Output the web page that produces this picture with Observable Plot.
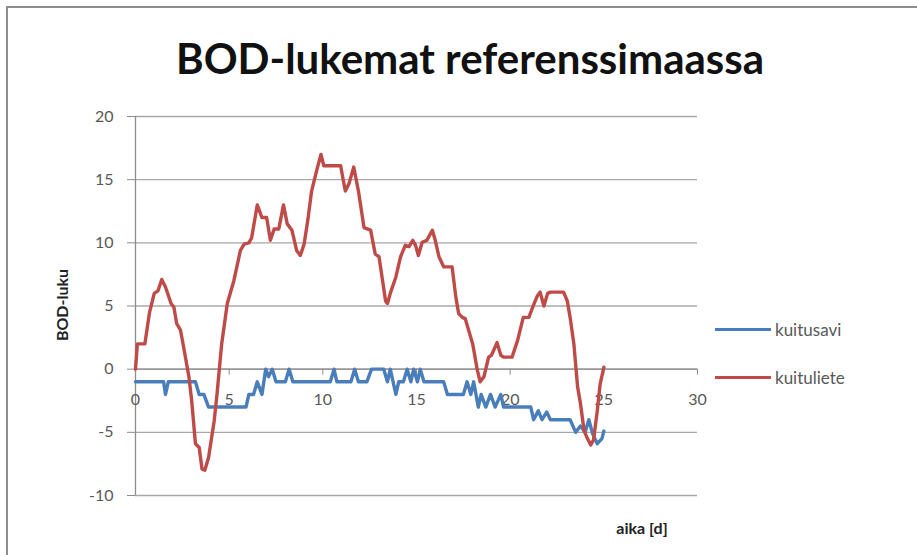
<!DOCTYPE html>
<html><head><meta charset="utf-8">
<script src="https://cdn.jsdelivr.net/npm/d3@7"></script>
<script src="https://cdn.jsdelivr.net/npm/@observablehq/plot@0.6"></script>
<style>
html,body{margin:0;padding:0;background:#fff;overflow:hidden;width:917px;height:555px}
#wrap{position:relative;width:917px;height:555px;font-family:Lato,"Open Sans",sans-serif;overflow:hidden}
#frame{position:absolute;left:6px;top:6px;width:980px;height:620px;border:2px solid #8e8e8e;box-sizing:border-box}
#title{position:absolute;left:0;width:940px;top:32px;text-align:center;font-weight:bold;font-size:42px;line-height:52px;color:#111}
#chart{position:absolute;left:0;top:0}
.ylab{position:absolute;left:61px;top:305px;transform:translate(-50%,-50%) rotate(-90deg);font-weight:bold;font-size:16px;color:#222;white-space:nowrap}
.xlab{position:absolute;left:642px;top:527px;transform:translate(-50%,-50%);font-weight:bold;font-size:16px;color:#222;white-space:nowrap}
.leg{position:absolute;left:715px;font-size:17px;color:#595959;display:flex;align-items:center;white-space:nowrap}
.leg span.l{display:inline-block;width:56px;height:3px;margin-right:4px}
</style></head>
<body><div id="wrap">
<div id="frame"></div>
<div id="title">BOD-lukemat referenssimaassa</div>
<div id="chart"></div>
<div class="ylab">BOD-luku</div>
<div class="xlab">aika [d]</div>
<div id="legend"></div>
</div>
<script>
// Data (day, BOD value)
const seriesNames = ["kuitusavi", "kuituliete"];
const seriesColors = ["#4a7ebb", "#be4b48"];
const xTicks = [0, 5, 10, 15, 20, 25, 30];
const yTicks = [-10, -5, 0, 5, 10, 15, 20];

const kuitusavi = [
  [0,-1],[1.5,-1],[1.6,-2],[1.75,-1],[3.2,-1],[3.4,-2],[3.65,-2],[3.9,-3],[5.9,-3],[6.05,-2],
  [6.3,-2],[6.5,-1],[6.75,-2],[6.95,0],[7.1,-0.6],[7.3,0],[7.5,-1],[8.0,-1],[8.2,0],[8.4,-1],
  [10.4,-1],[10.6,0],[10.75,-1],[11.5,-1],[11.7,0],[11.9,-1],[12.35,-1],[12.6,0],[13.25,0],[13.45,-1],
  [13.6,0],[13.9,-2],[14.05,-1],[14.3,-1],[14.5,0],[14.7,-1],[14.85,0],[15.05,-1],[15.2,0],[15.4,-1],
  [16.45,-1],[16.65,-2],[17.5,-2],[17.7,-1],[17.9,-2],[18.05,-1],[18.3,-3],[18.45,-2],[18.7,-3],[18.95,-2],
  [19.2,-3],[19.5,-2],[19.65,-3],[21.1,-3],[21.25,-4],[21.5,-3.3],[21.7,-4],[21.95,-3.4],[22.15,-4],[23.2,-4],
  [23.5,-5],[23.75,-4.5],[24.0,-5],[24.2,-4],[24.4,-5.1],[24.65,-5.9],[24.9,-5.5],[25.0,-4.9]
];

const kuituliete = [
  [0,0],[0.1,2],[0.5,2],[0.75,4.5],[1.0,6],[1.2,6.2],[1.4,7.1],[1.6,6.5],[1.9,5.2],[2.05,4.9],
  [2.2,3.6],[2.4,3.1],[2.6,1.5],[2.85,-0.6],[3.0,-2.5],[3.2,-5.9],[3.4,-6.2],[3.55,-7.9],[3.7,-8],[3.9,-7],
  [4.2,-4.1],[4.35,-2],[4.6,2],[4.9,5.2],[5.25,7],[5.6,9.4],[5.8,9.9],[6.05,10],[6.2,10.4],[6.5,13],
  [6.75,12],[7.0,12],[7.2,10.2],[7.4,11.1],[7.65,11.1],[7.9,13],[8.1,11.5],[8.35,11],[8.6,9.4],[8.8,9],
  [9.0,9.9],[9.2,11.8],[9.4,14.1],[9.7,15.9],[9.9,17],[10.05,16.1],[10.95,16.1],[11.2,14.1],[11.4,14.7],[11.65,16],
  [11.9,14.1],[12.2,11.2],[12.55,11],[12.8,9.1],[13.0,8.9],[13.35,5.4],[13.45,5.2],[13.6,6],[13.9,7.3],[14.15,8.9],
  [14.4,9.8],[14.6,9.7],[14.8,10.2],[14.95,9.8],[15.1,9],[15.3,10.05],[15.55,10.2],[15.85,11],[16.0,10.2],[16.2,8.9],
  [16.45,8.1],[16.9,8.1],[17.1,5.7],[17.25,4.4],[17.45,4.1],[17.6,4],[18.0,2],[18.25,-0.1],[18.4,-1],[18.6,-0.6],
  [18.85,0.95],[19.0,1.1],[19.3,2.1],[19.5,1.1],[19.65,0.95],[20.1,0.95],[20.4,2.3],[20.7,4.1],[21.0,4.1],[21.2,4.9],
  [21.45,5.8],[21.6,6.1],[21.8,5.0],[22.0,6.0],[22.15,6.1],[22.85,6.1],[23.05,5.4],[23.2,4.1],[23.4,2],[23.6,-1.4],
  [23.75,-2.7],[23.95,-4.9],[24.1,-5.4],[24.3,-6],[24.45,-5.6],[24.65,-3.3],[24.8,-1.2],[25.0,0.15]
];

const axisGray = "#8c8c8c";
const textGray = "#595959";

const chart = Plot.plot({
  width: 917, height: 555,
  marginLeft: 135, marginRight: 220, marginTop: 116, marginBottom: 60,
  x: {domain: [0, 30], axis: null},
  y: {domain: [-10, 20], axis: null},
  style: {fontFamily: "Lato, 'Open Sans', sans-serif", fontSize: "16px", background: "transparent", overflow: "visible"},
  marks: [
    Plot.gridY(yTicks, {stroke: "#a8a8a8", strokeOpacity: 1, strokeWidth: 1.3}),
    Plot.axisY(yTicks, {tickSize: 8, tickPadding: 14, label: null, tickFormat: d => String(d), stroke: axisGray, fill: textGray, fontSize: 16}),
    Plot.ruleX([0], {stroke: axisGray, strokeWidth: 1.3}),
    Plot.ruleY([0], {stroke: axisGray, strokeWidth: 1.3}),
    Plot.ruleX(xTicks, {x: d => d, y1: 0, y2: 0, insetBottom: -6, stroke: axisGray}),
    Plot.text(xTicks, {x: d => d, y: 0, dy: 31, text: d => String(d), fill: textGray, fontSize: 16}),
    Plot.line(kuitusavi, {x: d => d[0], y: d => d[1], stroke: seriesColors[0], strokeWidth: 3.4, strokeLinejoin: "round"}),
    Plot.line(kuituliete, {x: d => d[0], y: d => d[1], stroke: seriesColors[1], strokeWidth: 3.4, strokeLinejoin: "round"})
  ]
});
document.getElementById("chart").appendChild(chart);

const legend = document.getElementById("legend");
const legTops = [330, 378];
seriesNames.forEach((name, i) => {
  const row = document.createElement("div");
  row.className = "leg";
  row.style.top = (legTops[i] - 11) + "px";
  row.innerHTML = `<span class="l" style="background:${seriesColors[i]}"></span>${name}`;
  legend.appendChild(row);
});
</script>
</body></html>
